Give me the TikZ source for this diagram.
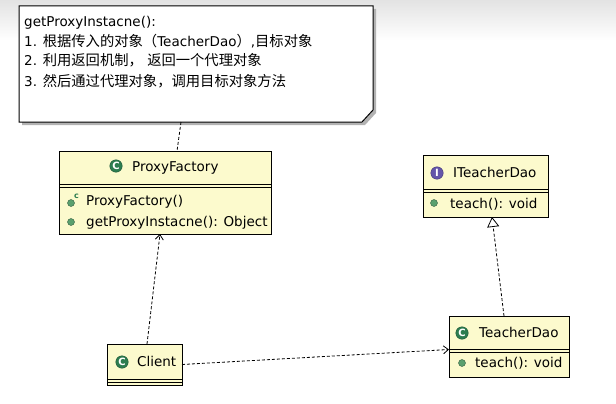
\documentclass[tikz,border=0pt]{standalone}
\usepackage{fontspec}
\setmainfont{DejaVu Sans}
\newfontfamily\cjk[Scale=1.06]{Noto Sans CJK SC}
\usetikzlibrary{arrows.meta}
\definecolor{classfill}{RGB}{252,250,205}
\definecolor{iconG}{RGB}{45,125,80}
\definecolor{iconI}{RGB}{100,85,170}
\definecolor{dotG}{RGB}{90,160,110}
\tikzset{
  umlbox/.style={draw, line width=1pt, fill=classfill, inner sep=0pt, outer sep=0pt},
  lbl/.style={anchor=base west, inner sep=0pt, font=\fontsize{13.5}{16}\selectfont},
  cicon/.style={circle, fill=iconG, draw=iconG!70!black, minimum size=12.5pt, inner sep=0pt,
    text=white, font=\fontsize{10}{10}\selectfont\bfseries},
  iicon/.style={cicon, fill=iconI, draw=iconI!70!black},
  mdot/.style={circle, fill=dotG, draw=dotG!60!black, minimum size=7pt, inner sep=0pt},
  dep/.style={dash pattern=on 3pt off 2pt, line width=.8pt},
}
\begin{document}
\begin{tikzpicture}[x=1pt, y=-1pt]
\fill[white] (0,0) rectangle (616,404);
\useasboundingbox (0,0) rectangle (616,404);
\shade[top color=gray!22, bottom color=white] (0,0) rectangle (616,40);
% note
\fill[gray!60] (22,9) -- (376,9) -- (376,113) -- (365,125) -- (22,125) -- cycle;
\draw[fill=white, line width=1pt] (19,6) -- (373,6) -- (373,110) -- (362,122) -- (19,122) -- cycle;
\node[lbl] (n0) at (24,27) {getProxyInstacne():};
\node[lbl] (n1) at (24,47) {1. {\cjk 根据传入的对象（}TeacherDao{\cjk ）},{\cjk 目标对象}};
\node[lbl] (n2) at (24,66) {2. {\cjk 利用返回机制，} {\cjk 返回一个代理对象}};
\node[lbl] (n3) at (24,86) {3. {\cjk 然后通过代理对象，调用目标对象方法}};
\coordinate (notefoot) at (181,122);
% ProxyFactory
\node[umlbox, minimum width=212pt, minimum height=83pt] (pf) at (165,192.5) {};
\draw[line width=.9pt] (pf.west |- 0,184) -- (pf.east |- 0,184);
\draw[line width=.9pt] (pf.west |- 0,187) -- (pf.east |- 0,187);
\node[cicon] (pfic) at (116,166) {C};
\node[lbl] (pft) at (132,171) {ProxyFactory};
\node[mdot] (pfd1) at (71,203) {};
\node[inner sep=0pt, text=iconG, font=\fontsize{8}{8}\selectfont\bfseries] (pfc) at (76.5,196) {c};
\node[lbl] (pfm1) at (86,205) {ProxyFactory()};
\node[mdot] (pfd2) at (71,222) {};
\node[lbl] (pfm2) at (86,226) {getProxyInstacne(): Object};
% ITeacherDao
\node[umlbox, minimum width=125pt, minimum height=62pt] (itd) at (485.5,186) {};
\draw[line width=.9pt] (itd.west |- 0,189.5) -- (itd.east |- 0,189.5);
\draw[line width=.9pt] (itd.west |- 0,192.5) -- (itd.east |- 0,192.5);
\node[iicon] (itdic) at (437,173) {I};
\node[lbl] (itdt) at (453,177) {ITeacherDao};
\node[mdot] (itdd) at (434,203) {};
\node[lbl] (itdm) at (450,208) {teach(): void};
% TeacherDao
\node[umlbox, minimum width=120pt, minimum height=61pt] (td) at (509,346.5) {};
\draw[line width=.9pt] (td.west |- 0,349) -- (td.east |- 0,349);
\draw[line width=.9pt] (td.west |- 0,352) -- (td.east |- 0,352);
\node[cicon] (tdic) at (462,333) {C};
\node[lbl] (tdt) at (479,337) {TeacherDao};
\node[mdot] (tdd) at (462,363) {};
\node[lbl] (tdm) at (475,367) {teach(): void};
% Client
\node[umlbox, minimum width=75pt, minimum height=41pt] (cl) at (144.5,364.5) {};
\draw[line width=.9pt] (cl.west |- 0,379) -- (cl.east |- 0,379);
\draw[line width=.9pt] (cl.west |- 0,382) -- (cl.east |- 0,382);
\node[cicon] (clic) at (122,362) {C};
\node[lbl] (clt) at (137,366) {Client};
% links
\draw[dep] (notefoot) -- ([xshift=12pt]pf.north);
\draw[dep, -{Straight Barb[length=5pt, width=8pt]}] ([xshift=2.5pt]cl.north) -- ([xshift=-5pt]pf.south);
\draw[dep, -{Straight Barb[length=5pt, width=8pt]}] (cl.east) -- ([yshift=-3pt]td.west);
\draw[dep, -{Triangle[open, fill=white, length=10pt, width=12pt]}] ([xshift=-5pt]td.north) -- ([xshift=6.5pt]itd.south);
\end{tikzpicture}
\end{document}
